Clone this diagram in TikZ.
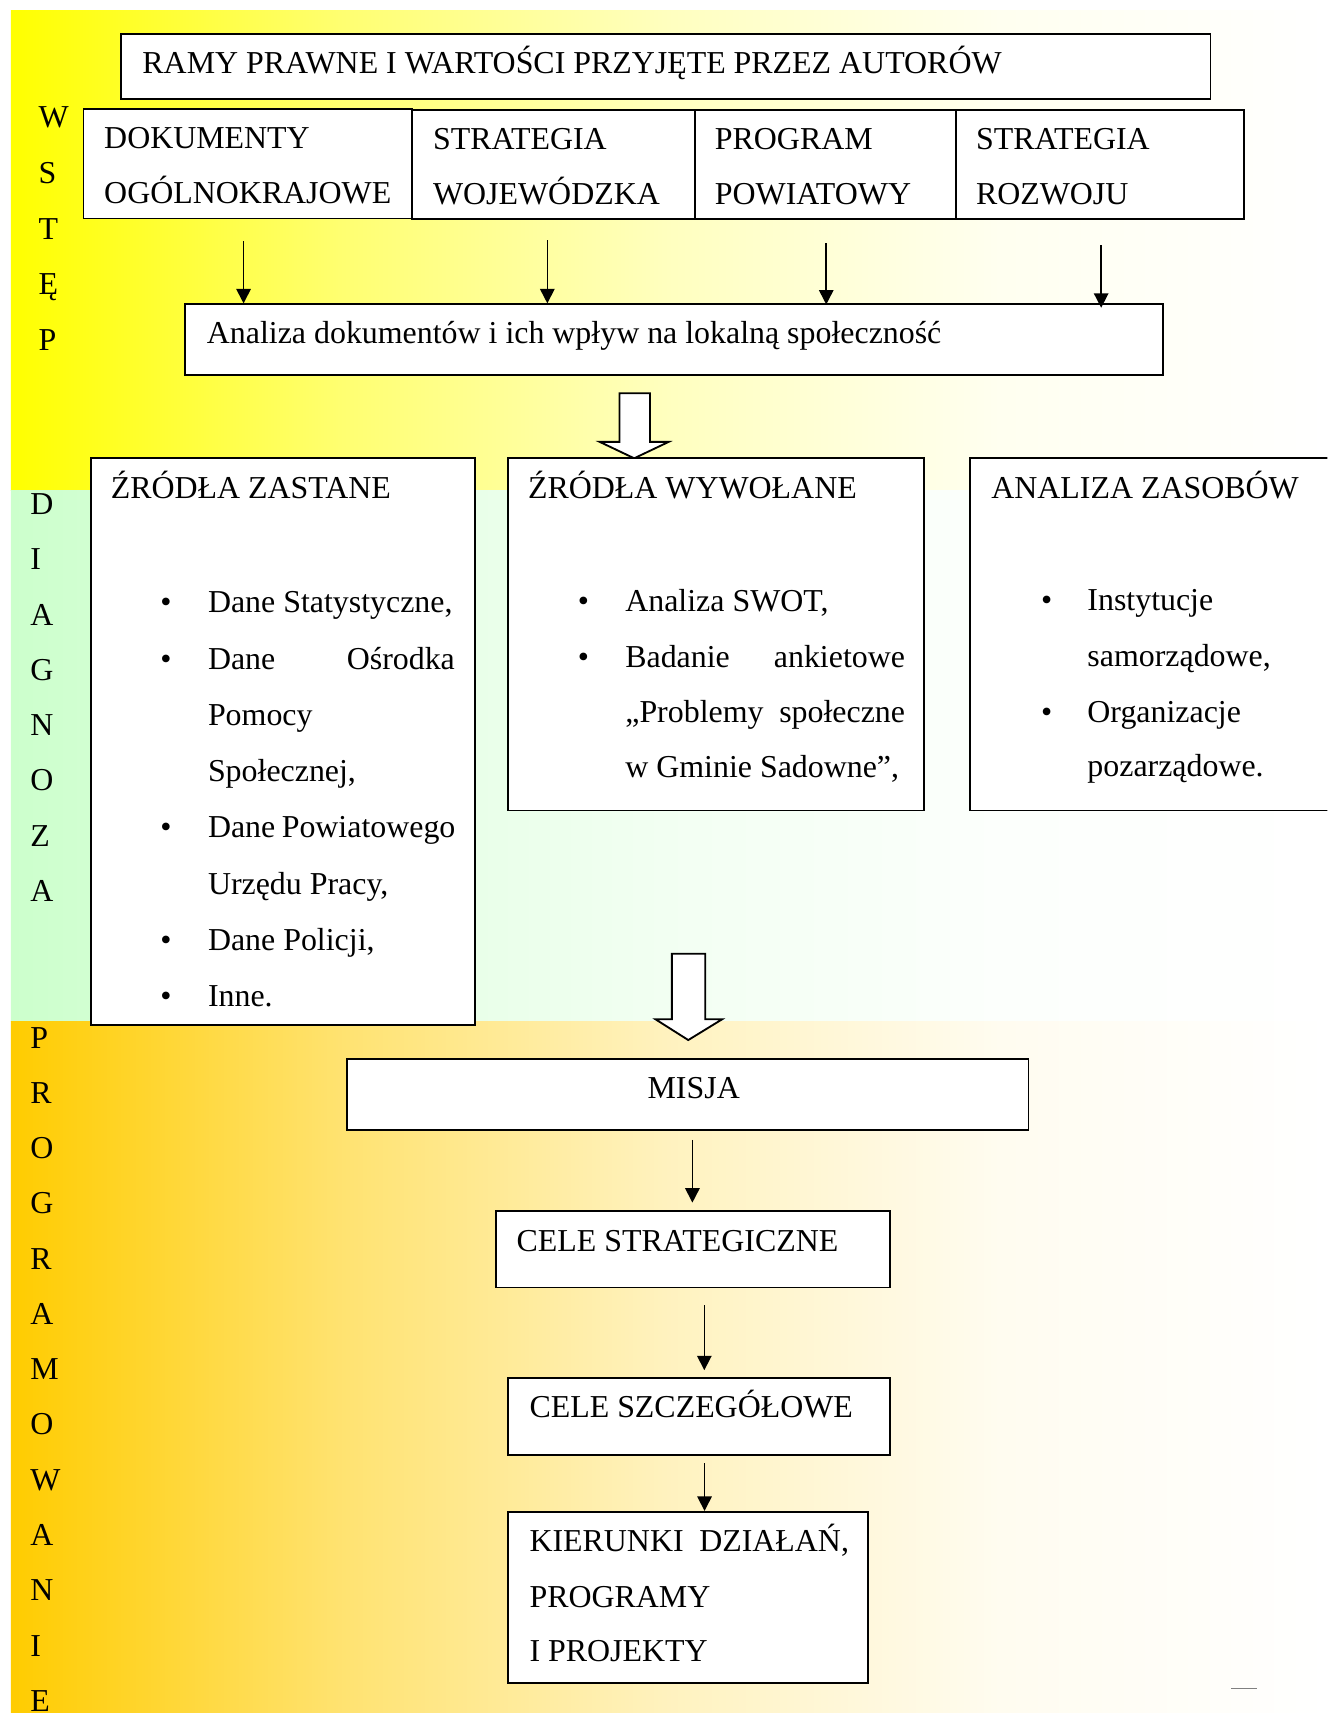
\documentclass[tikz,border=0pt]{standalone}
\usepackage{fontspec}
\setmainfont{Liberation Serif}
\usetikzlibrary{arrows.meta,fit}
\definecolor{bandY}{HTML}{FFFF00}
\definecolor{bandG}{HTML}{CCFFCC}
\definecolor{bandO}{HTML}{FFCC00}
\colorlet{bY1}{bandY!56!white}\colorlet{bY2}{bandY!25!white}\colorlet{bY3}{bandY!6!white}
\colorlet{bG1}{bandG!56!white}\colorlet{bG2}{bandG!25!white}\colorlet{bG3}{bandG!6!white}
\colorlet{bO1}{bandO!56!white}\colorlet{bO2}{bandO!25!white}\colorlet{bO3}{bandO!6!white}
\pgfdeclarehorizontalshading{yelsh}{100bp}{color(0bp)=(bandY); color(25bp)=(bandY); color(37.5bp)=(bY1); color(50bp)=(bY2); color(62.5bp)=(bY3); color(75bp)=(white); color(100bp)=(white)}
\pgfdeclarehorizontalshading{grnsh}{100bp}{color(0bp)=(bandG); color(25bp)=(bandG); color(37.5bp)=(bG1); color(50bp)=(bG2); color(62.5bp)=(bG3); color(75bp)=(white); color(100bp)=(white)}
\pgfdeclarehorizontalshading{orash}{100bp}{color(0bp)=(bandO); color(25bp)=(bandO); color(37.5bp)=(bO1); color(50bp)=(bO2); color(62.5bp)=(bO3); color(75bp)=(white); color(100bp)=(white)}
\newcommand\dgfont{\fontsize{14.6}{17}\selectfont}
\begin{document}
\begin{tikzpicture}[x=0.5pt,y=-0.5pt,
  bx/.style={draw=black, fill=white, line width=0.8pt, inner sep=0pt},
  tx/.style={anchor=base west, inner sep=0pt, font=\dgfont},
  ctx/.style={anchor=base, inner sep=0pt, font=\dgfont},
  bul/.style={anchor=base, inner sep=0pt, font=\dgfont},
  arr/.style={line width=0.75pt, -{Triangle[length=6.6pt,width=6.6pt]}},
  harr/.style={draw=black, fill=white, line width=0.85pt, line join=miter}]
\useasboundingbox (0,0) rectangle (1215,1568);
\clip (0,0) rectangle (1215,1568);
% background bands
\shade[shading=yelsh] (10,10) rectangle (1215,449);
\shade[shading=grnsh] (10,449) rectangle (1215,935);
\shade[shading=orash] (10,935) rectangle (1215,1568);

% side letters
\foreach \l [count=\i from 0] in {W,S,T,Ę,P}
  \node[tx] (w\i) at (35,117+51*\i) {\l};
\foreach \l [count=\i from 0] in {D,I,A,G,N,O,Z,A}
  \node[tx] (d\i) at (27.5,471+50.6*\i) {\l};
\foreach \l [count=\i from 0] in {P,R,O,G,R,A,M,O,W,A,N,I,E}
  \node[tx] (p\i) at (27.5,959.3+50.6*\i) {\l};

% WSTĘP boxes
\node[bx, fit={(111,31) (1108,90.5)}] (ramy) {};
\node[tx] (ramyT) at (130,67) {RAMY PRAWNE I WARTOŚCI PRZYJĘTE PRZEZ AUTORÓW};
\node[bx, fit={(76.5,100) (377,200)}] (dok) {};
\node[bx, fit={(377,101) (636,200.5)}] (woj) {};
\node[bx, fit={(636,101) (875,200.5)}] (pow) {};
\node[bx, fit={(875,101) (1138.5,200.5)}] (roz) {};
\node[tx] (dokA) at (95,136) {DOKUMENTY};
\node[tx] (dokB) at (95,186) {OGÓLNOKRAJOWE};
\node[tx] (wojA) at (396,137) {STRATEGIA};
\node[tx] (wojB) at (396,187) {WOJEWÓDZKA};
\node[tx] (powA) at (654,137) {PROGRAM};
\node[tx] (powB) at (654,187) {POWIATOWY};
\node[tx] (rozA) at (893,137) {STRATEGIA};
\node[tx] (rozB) at (893,187) {ROZWOJU};
\node[bx, fit={(169.5,278.5) (1064.5,343.3)}] (ana) {};
\node[tx] (anaT) at (189,314) {Analiza dokumentów i ich wpływ na lokalną społeczność};

\draw[arr, shorten <=10pt] ([xshift=-1.9pt]dok.south) -- ([xshift=-1.9pt]dok.south |- ana.north);
\draw[arr, shorten <=9.3pt] ([xshift=-2.75pt]woj.south) -- ([xshift=-2.75pt]woj.south |- ana.north);
\draw[arr, shorten <=10.7pt, shorten >=-0.5pt] ([xshift=0.4pt]pow.south) -- ([xshift=0.4pt]pow.south |- ana.north);
\draw[arr, shorten <=11.7pt, shorten >=-2pt] ([xshift=0.6pt]roz.south) -- ([xshift=0.6pt]roz.south |- ana.north);

% hollow arrow 1
\draw[harr] (567,360) -- (595,360) -- (595,404.5) -- (612,404.5) -- (580.5,419.5) -- (549,404.5) -- (567,404.5) -- cycle;

% DIAGNOZA boxes
\node[bx, fit={(83,419.5) (435,938)}] (zas) {};
\node[tx] (zasH) at (101,456) {ŹRÓDŁA ZASTANE};
\foreach \y [count=\i] in {561,612.5,767,870,921.5}
  \node[bul] (zb\i) at (152,\y) {•};
\node[tx] (z1) at (190,561) {Dane Statystyczne,};
\node[tx] (z2) at (190,612.5) {\hbox to 113pt{Dane\hfill Ośrodka}};
\node[tx] (z3) at (190,664) {Pomocy};
\node[tx] (z4) at (190,715.5) {Społecznej,};
\node[tx] (z5) at (190,767) {Dane\hspace{-0.7pt} Powiatowego};
\node[tx] (z6) at (190,818.5) {Urzędu Pracy,};
\node[tx] (z7) at (190,870) {Dane Policji,};
\node[tx] (z8) at (190,921.5) {Inne.};

\node[bx, fit={(465,419.5) (846,742)}] (wyw) {};
\node[tx] (wywH) at (483,456) {ŹRÓDŁA WYWOŁANE};
\node[bul] (wb1) at (534,560) {•};
\node[bul] (wb2) at (534,611) {•};
\node[tx] (v1) at (572,560) {Analiza SWOT,};
\node[tx] (v2) at (572,611) {\hbox to 128pt{Badanie\hfill ankietowe}};
\node[tx] (v3) at (572,661.5) {\hbox to 128pt{„Problemy\hfill społeczne}};
\node[tx] (v4) at (572,712) {w Gminie Sadowne”,};

\node[bx, fit={(887.6,419.5) (1240,742)}] (zsb) {};
\node[tx] (zsbH) at (907,456) {ANALIZA ZASOBÓW};
\node[bul] (sb1) at (958,559) {•};
\node[bul] (sb2) at (958,661) {•};
\node[tx] (s1) at (995,559) {Instytucje};
\node[tx] (s2) at (995,610) {samorządowe,};
\node[tx] (s3) at (995,661) {Organizacje};
\node[tx] (s4) at (995,711) {pozarządowe.};

% hollow arrow 2
\draw[harr] (615,873) -- (645.5,873) -- (645.5,933) -- (661,933) -- (630,952) -- (600,933) -- (615,933) -- cycle;

% PROGRAMOWANIE boxes
\node[bx, fit={(317.7,969.6) (941.5,1034)}] (misja) {};
\node[ctx] (misjaT) at (635,1005.5) {MISJA};
\node[bx, fit={(454,1108.8) (814.4,1178.5)}] (cs) {};
\node[tx] (csT) at (472.5,1145.8) {CELE STRATEGICZNE};
\node[bx, fit={(465,1261) (814.8,1331.5)}] (csz) {};
\node[tx] (cszT) at (484.3,1297.5) {CELE SZCZEGÓŁOWE};
\node[bx, fit={(465,1383.8) (794.6,1540.5)}] (kier) {};
\node[tx] (k1) at (484.3,1420.5) {KIERUNKI\hspace{3.5pt} DZIAŁAŃ,};
\node[tx] (k2) at (484.3,1471) {PROGRAMY};
\node[tx] (k3) at (484.3,1521) {I PROJEKTY};

\draw[arr, shorten <=4.3pt, shorten >=3.6pt] ([xshift=2.1pt]misja.south) -- ([xshift=2.1pt]misja.south |- cs.north);
\draw[arr, shorten <=7.8pt, shorten >=3pt] ([xshift=5.25pt]cs.south) -- ([xshift=5.25pt]cs.south |- csz.north);
\draw[arr, shorten <=3.5pt] ([xshift=2.5pt]csz.south) -- ([xshift=2.5pt]csz.south |- kier.north);

% small stray mark
\draw[gray, line width=0.6pt] (1127,1545.5) -- (1151,1545.5);
\end{tikzpicture}
\end{document}
